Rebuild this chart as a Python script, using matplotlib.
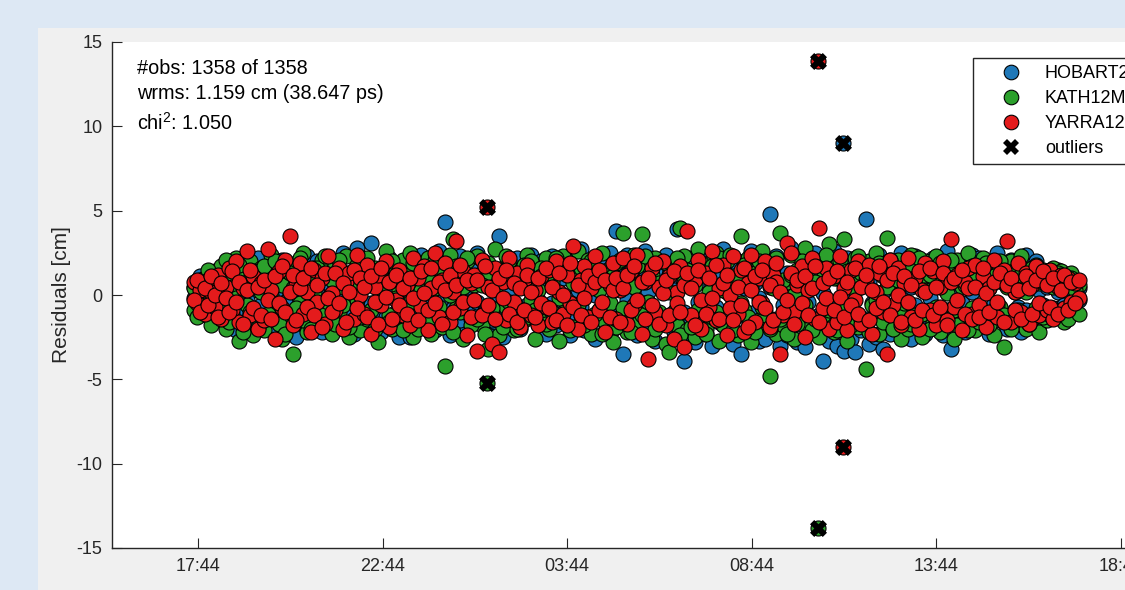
import numpy as np
import matplotlib.pyplot as plt
from matplotlib.lines import Line2D
from matplotlib.patches import Rectangle

plt.rcParams['font.family'] = ['Liberation Sans', 'DejaVu Sans']
plt.rcParams['mathtext.fontset'] = 'custom'
plt.rcParams['mathtext.rm'] = 'Liberation Sans'
plt.rcParams['mathtext.default'] = 'regular'
plt.rcParams['axes.unicode_minus'] = False

stations = ['HOBART26', 'KATH12M', 'YARRA12M']
colors = ['#1f78b8', '#2ca02c', '#e41b1c']

# scan epochs, minutes after 17:44
scan_min = [
    -6, -1, 4, 11, 16, 21, 28, 33, 38, 45, 50, 56, 62, 67, 73, 80, 85, 90, 97, 102,
    108, 114, 119, 125, 132, 137, 142, 149, 154, 160, 166, 171, 177, 184, 189, 194, 201, 206, 212, 218,
    223, 229, 236, 241, 246, 253, 258, 264, 270, 275, 281, 288, 293, 298, 305, 310, 316, 322, 327, 333,
    340, 345, 350, 357, 362, 368, 374, 379, 385, 392, 397, 402, 409, 414, 420, 426, 431, 437, 444, 449,
    454, 461, 466, 472, 478, 483, 489, 496, 501, 506, 513, 518, 524, 530, 535, 541, 548, 553, 558, 565,
    570, 576, 582, 587, 593, 600, 605, 610, 617, 622, 628, 634, 639, 645, 652, 657, 662, 669, 674, 680,
    686, 691, 697, 704, 709, 714, 721, 726, 732, 738, 743, 749, 756, 761, 766, 773, 778, 784, 790, 795,
    801, 808, 813, 818, 825, 830, 836, 842, 847, 853, 860, 865, 870, 877, 882, 888, 894, 899, 905, 912,
    917, 922, 929, 934, 940, 946, 951, 957, 964, 969, 974, 981, 986, 992, 998, 1003, 1009, 1016, 1021, 1026,
    1033, 1038, 1044, 1050, 1055, 1061, 1068, 1073, 1078, 1085, 1090, 1096, 1102, 1107, 1113, 1120, 1125, 1130, 1137, 1142,
    1148, 1154, 1159, 1165, 1172, 1177, 1182, 1189, 1194, 1200, 1206, 1211, 1217, 1224, 1229, 1234, 1241, 1246, 1252, 1258,
    1263, 1269, 1276, 1281, 1286, 1293, 1298, 1304, 1310, 1315, 1321, 1328, 1333, 1338, 1345, 1350, 1356, 1362, 1367, 1373,
    1380, 1385, 1390, 1397, 1402, 1408, 1414, 1419, 1425, 1432]

# residuals [cm], two baselines per station at each scan
res_hobart = [
    0.5, -0.8, 1.1, -0.3, 0.7, -1.2, 1.4, -0.9, 0.2, 1.8, -1.6, 0.9, -2.1, 1.5, -0.5, 1.9, -1.4, 0.3, 2.2, -1.9,
    1.2, -0.7, 1.7, -2.0, 0.6, 2.1, -1.5, 0.9, 1.3, -2.5, 0.4, -1.7, 2.3, -0.9, 1.0, 2.0, -2.2, 0.5, -1.3, 1.8,
    -2.0, 0.7, 2.5, -1.6, 1.1, -2.3, 2.8, -0.6, 1.5, -1.9, 3.1, -1.1, 0.8, -2.2, 1.7, 2.2, -1.5, 0.4, -2.5, 1.3,
    2.0, -2.5, 1.2, -1.0, 2.4, -1.8, 0.6, 1.6, -2.1, 2.6, -0.4, 4.3, -2.4, 1.1, -1.6, 2.3, 0.2, -2.0, 1.8, -1.2,
    2.5, -0.9, 1.9, -2.2, 1.0, -1.6, 3.5, -2.5, 0.8, 1.6, -1.3, 2.2, -2.0, 1.3, -0.6, 2.4, 1.1, -1.7, 2.0, -2.3,
    0.9, 2.3, -1.8, 1.6, -0.8, 2.1, -2.4, 1.2, -1.1, 2.7, -2.1, 0.5, 1.8, -2.6, 2.2, -1.4, 1.0, 2.5, -2.0, 3.8,
    1.5, -3.5, 2.4, -1.5, 1.9, -2.4, 0.7, 2.6, -1.9, 1.2, -2.7, 2.0, -1.3, 2.4, 0.9, -2.2, 3.9, 1.4, -3.9, -2.5,
    2.2, -2.8, 1.0, 2.5, -2.3, 0.5, -3.0, 2.1, -1.6, 2.7, -2.5, 1.4, -2.9, 2.0, -3.5, 1.6, -2.2, 2.6, -1.0, -2.7,
    1.9, -2.6, 4.8, -1.8, 2.3, -3.0, 1.1, -2.4, 2.8, -1.5, -2.8, 2.2, -3.1, 1.6, -2.0, 2.5, -1.2, -3.9, 2.1, -2.7,
    2.6, -3.0, 1.5, -3.3, 2.2, -2.6, -3.4, 1.9, -2.1, 4.5, -2.9, 1.7, -2.5, 2.4, -3.2, 1.2, -2.3, 2.0, -1.6, 2.5,
    -2.1, 1.5, -2.6, 2.3, -1.4, 2.0, -2.3, 0.9, 2.2, -1.8, 1.3, -2.4, 2.6, -3.2, 1.7, -1.0, 2.1, -2.2, 1.1, 2.4,
    -1.7, 2.2, -1.1, 1.8, -2.3, 0.8, 2.5, -1.5, 1.4, -2.0, 2.1, -0.9, 1.6, -2.2, 2.4, -1.3, 0.7, 2.0, -1.8, 1.2,
    1.3, -1.2, 0.9, 1.5, -0.7, 1.1, -1.3, 0.6, -0.9, 0.4]

res_hobart_b = [
    -0.2, 0.6, -0.9, 1.0, -0.5, 0.3, -1.1, 0.8, -0.4, 1.2, 0.1, -1.3, 0.7, -0.8, 1.1, -0.3, 0.5, -1.0, 1.3, -0.6,
    0.3, -1.2, 0.8, 0.0, -0.9, 1.4, -0.4, -1.1, 0.6, 1.0, -1.4, 0.2, -0.6, 1.2, -1.0, 0.4, 0.9, -1.3, 0.7, -0.3,
    1.0, -0.8, 0.3, 1.3, -1.2, 0.5, -0.2, 1.1, -1.5, 0.7, -0.5, 1.4, -0.9, 0.2, -1.3, 0.9, 0.1, -1.0, 1.5, -0.6,
    -0.7, 1.2, -1.3, 0.4, 0.9, -1.0, 1.5, -0.3, 0.6, -1.4, 1.0, -0.2, 1.3, -0.8, 0.2, -1.5, 1.1, 0.5, -0.9, 1.4,
    -0.4, 1.3, -0.9, 0.7, -1.5, 1.1, -0.1, 0.9, -1.2, 0.3, 1.5, -0.7, 1.0, -1.4, 0.4, -0.8, 1.2, -0.3, 0.8, -1.1,
    1.4, -0.5, 0.6, -1.3, 1.0, -0.2, 1.5, -1.1, 0.3, -0.7, 1.2, -1.5, 0.7, 0.0, -1.0, 1.3, -0.6, 0.9, -1.4, 0.5,
    -0.9, 1.1, -0.3, 1.6, -1.2, 0.4, -1.7, 1.0, 0.2, -0.8, 1.4, -1.1, 0.6, -1.6, 1.2, 0.3, -0.7, 1.5, -1.0, 0.8,
    -1.5, 1.2, -0.4, 0.9, 1.6, -1.3, 0.6, -0.7, 1.4, -1.8, 0.2, 1.1, -0.9, 1.7, -1.2, 0.4, 1.0, -1.6, 0.7, -0.2,
    1.2, -1.0, 0.5, 1.6, -1.4, 0.9, -0.6, 1.3, -1.7, 0.3, 1.0, -1.2, 0.6, -0.4, 1.5, -1.5, 0.8, 0.1, -1.1, 1.4,
    -0.6, 1.0, -1.6, 0.7, -0.3, 1.5, -1.1, 0.4, 1.2, -1.4, 0.8, -0.5, 1.6, -1.0, 0.2, -1.7, 1.1, -0.8, 1.4, 0.3,
    1.0, -1.3, 0.5, -0.6, 1.5, -1.1, 0.8, -0.2, 1.2, -1.6, 0.6, 1.3, -0.9, 0.3, -1.4, 1.1, -0.5, 0.9, -1.2, 0.2,
    1.1, -0.8, 1.4, -1.2, 0.4, -0.5, 1.3, -1.0, 0.7, 1.0, -1.3, 0.2, -0.7, 1.2, -0.9, 0.6, 1.3, -1.1, 0.3, -0.6,
    0.5, 0.9, -0.8, 0.2, 1.0, -0.6, 0.4, -1.0, 0.8, -0.3]

res_kath = [
    -0.9, 0.6, -1.2, 1.0, -0.4, 1.3, -1.5, 0.2, 1.7, -2.0, 0.8, -1.1, 2.2, -2.7, 1.4, -0.6, 2.0, -2.4, 0.9, 1.6,
    -2.1, 0.4, 2.4, -1.3, 1.1, -2.6, 0.7, -1.8, -3.5, 1.9, -0.5, 2.5, -2.2, 0.3, 1.6, -1.7, 2.1, -0.9, 1.2, -2.3,
    1.8, -1.0, 0.5, 2.3, -2.5, 1.2, -0.3, -2.1, 2.0, -1.4, 0.9, 1.6, -2.8, 0.1, 2.6, -1.2, -2.0, 1.4, 0.3, 2.1,
    -1.6, 2.5, -2.5, 0.7, 1.9, -1.1, 2.2, -2.3, 0.4, 1.5, -1.9, -4.2, 2.4, 3.3, -0.8, 1.0, -2.6, 2.0, -1.4, 0.6,
    2.3, -1.8, 1.2, -3.2, 0.5, 2.7, -2.4, 1.6, -0.7, 2.0, -2.1, 0.9, 1.4, -1.5, 2.4, -0.3, -2.6, 1.8, -1.0, 2.2,
    -2.0, 0.8, 1.5, -2.7, 2.3, -0.6, 1.1, -1.9, 2.6, -1.2, 0.4, 2.1, -2.3, 1.3, -0.9, 2.5, -1.6, 0.7, -2.8, 1.9,
    -1.3, 3.7, -2.2, 0.9, 2.4, -1.7, 3.6, -0.5, 1.8, -2.6, 2.2, -1.0, 0.6, -2.9, -3.4, 1.5, -1.8, 4.0, 2.3, -2.1,
    1.4, -2.5, 2.7, -0.8, -2.0, 1.9, -1.3, 2.5, -2.7, 0.3, 2.0, -1.6, 1.1, -2.4, 3.5, -0.9, 2.2, -2.8, 1.3, -1.5,
    2.6, -1.2, -4.8, 1.7, -2.3, 3.7, -1.8, 0.8, 2.4, -2.6, 1.5, -1.1, 2.8, -2.0, 0.5, 2.1, -2.5, 1.0, -1.4, 3.0,
    -2.2, 1.8, -1.5, 3.3, -2.7, 0.9, 2.2, -1.9, 1.3, -4.4, 2.0, -0.6, 2.5, -2.3, 1.1, 3.4, -1.7, 0.4, 2.1, -2.6,
    1.6, -2.0, 2.4, -1.2, 0.7, -2.5, 2.0, 1.2, -1.6, 2.3, -2.2, 0.9, 1.7, -1.4, -2.6, 2.1, 0.5, -1.9, 2.5, -0.8,
    -2.1, 1.4, 2.2, -1.3, 0.6, -2.4, 1.9, -0.7, -3.1, 1.2, 2.0, -1.8, 0.8, 2.3, -2.0, 1.0, -1.4, 1.8, -2.2, 1.5,
    -1.5, 0.9, 1.6, -1.1, 1.4, -1.6, 0.8, 1.3, -1.0, 0.6]

res_kath_b = [
    0.4, -1.3, 0.9, -0.6, 1.5, -1.8, 0.3, 1.1, -0.9, 2.1, -1.6, 0.5, -0.2, 1.8, -2.2, 0.8, -1.0, 1.4, -1.9, 0.2,
    1.7, -1.1, 0.0, 2.0, -1.7, 0.6, -2.3, 1.3, 0.4, -0.8, 2.2, -1.5, 1.0, -2.0, 0.2, 1.6, -1.2, 2.3, -0.4, 0.9,
    -1.7, 2.1, -0.6, 1.0, -1.9, 0.4, 1.8, -1.3, 0.7, 2.2, -0.9, -2.0, 1.5, -0.5, 0.9, -1.6, 2.0, -0.2, 1.3, -2.1,
    1.2, -0.4, 1.9, -2.0, 0.3, 1.6, -1.4, 0.8, 2.1, -0.7, 1.3, -1.6, 0.0, -2.2, 1.7, -1.0, 0.5, 2.2, -1.8, 1.0,
    -1.4, 0.6, -2.3, 1.9, -0.8, 0.4, 1.4, -1.9, 2.3, -0.4, 1.1, -2.0, 0.7, 1.8, -1.3, 2.0, -0.9, 0.3, 1.6, -1.7,
    1.3, -1.0, 2.2, -0.2, -1.6, 1.8, -2.1, 0.7, -0.6, 1.6, -1.8, 0.9, 2.0, -1.1, 0.3, -2.3, 1.4, -0.5, 1.1, -1.9,
    2.1, -0.8, 1.0, -2.2, 0.5, 1.7, -1.2, 2.3, -0.4, 1.2, -2.0, 0.7, -1.6, 1.9, 0.2, -1.0, 2.2, -2.4, 0.8, 1.5,
    -1.9, 0.6, -0.9, 1.9, -2.3, 0.2, 1.7, -1.0, 2.2, -1.8, 0.8, 2.4, -2.1, 1.0, -0.5, 1.8, -1.3, 0.5, -2.2, 2.0,
    -0.7, 1.6, -2.0, 0.4, 2.2, -1.4, 0.9, -2.3, 1.2, 0.0, -1.7, 2.0, -0.6, 1.5, -2.1, 0.8, 1.9, -1.2, 2.4, -0.9,
    1.0, -2.1, 2.0, -0.6, 1.4, -1.8, 0.3, 2.3, -1.4, 0.7, -2.2, 1.6, -0.3, 1.9, -1.6, 0.5, 2.1, -2.0, 0.9, -1.1,
    -0.5, 1.8, -1.7, 0.6, 2.2, -1.1, 0.3, -2.0, 1.5, -0.7, 1.9, -1.5, 0.1, 2.1, -0.9, -1.8, 1.3, 0.6, -2.1, 1.7,
    0.9, -1.6, 0.4, 1.9, -1.8, 1.1, -0.6, 2.0, -1.2, 0.5, -2.0, 1.5, -0.9, 1.2, 0.2, -1.7, 1.6, -0.8, 0.7, -1.3,
    1.1, -1.2, 0.5, 1.3, -0.9, 0.7, -1.4, 1.0, 0.3, -1.1]

res_yarra = [
    0.8, -0.5, 0.3, -1.1, 0.9, 0.2, -0.7, 1.2, -1.4, 0.5, 1.6, -0.9, 2.0, -1.6, 0.4, 2.6, -1.2, 1.1, -2.0, 0.7,
    -1.5, 2.7, 0.3, -2.6, 1.4, -0.8, 2.1, 3.5, -1.8, 0.6, 1.9, -1.1, 0.2, -2.2, 1.5, -0.4, 1.0, -1.7, 2.3, 0.1,
    -0.9, 1.6, -2.0, 0.8, 1.3, -1.4, 2.4, 0.0, -1.1, 1.8, -2.3, 0.5, 1.2, -0.6, 2.0, -1.9, 0.9, -0.3, 1.5, -1.2,
    0.6, -1.8, 2.2, 1.0, -0.7, 1.7, -2.1, 0.4, 2.5, -1.3, 0.9, 1.9, -1.6, 0.2, 3.2, -0.8, 1.4, -2.4, 0.7, 1.2,
    -3.3, 2.1, -1.0, 0.5, -2.9, 1.6, -3.4, 0.8, -1.5, 2.2, -0.4, 1.3, -1.9, 0.6, 1.8, -1.2, 0.3, -1.8, 1.1, -0.7,
    1.5, -1.6, 2.0, 0.2, -1.1, 1.2, -0.5, 2.9, -2.0, 0.9, 1.7, -1.3, 0.4, 2.3, -0.9, 1.0, -2.2, 0.6, 1.9, -1.4,
    0.3, 2.2, -1.7, 1.4, -0.6, 2.4, -2.3, 0.8, -3.8, 1.6, -1.0, 0.5, 2.0, -1.8, 1.1, -2.6, 0.2, 1.7, -3.1, 3.8,
    -1.2, 0.9, 2.1, -2.0, 1.3, -0.7, 2.6, -1.5, 0.4, 1.8, -2.4, 0.0, 2.3, -1.1, 1.5, -2.2, 0.7, 2.4, -1.6, 1.0,
    -0.5, 2.0, -1.9, 1.2, 0.8, -3.5, -1.2, 3.1, 2.5, -1.0, 0.6, 1.7, -2.5, 0.3, 2.2, -1.4, 4.0, -0.8, 1.6, -2.0,
    1.1, -1.6, 2.3, 0.4, -2.1, 1.5, -0.3, 2.0, -1.7, 0.9, 1.8, -2.3, 0.2, 1.3, -1.0, -3.5, 2.1, -0.6, 1.6, -1.8,
    0.7, 2.2, -1.3, 1.0, -2.0, 0.3, 1.9, -0.9, 1.4, -1.8, 0.5, 2.0, -1.5, 3.3, -0.7, 1.2, -2.1, 0.8, 1.6, -1.1,
    1.8, -0.6, 1.1, -1.9, 0.4, 2.1, -1.3, 0.9, 1.5, 3.2, -1.6, 0.2, 1.9, -1.0, 1.3, -1.7, 0.6, 1.7, -1.2, 0.8,
    -0.9, 1.5, -1.4, 0.5, 1.2, -0.8, 1.0, -0.4, 0.7, -0.2]

res_yarra_b = [
    -0.3, 0.9, -1.0, 0.4, -0.6, 1.1, 0.0, -1.3, 0.7, -0.2, -1.0, 1.4, -0.4, 0.8, -1.7, 0.3, 1.5, -0.8, 0.5, -1.2,
    0.9, -0.3, -1.4, 1.1, -0.5, 1.7, -1.0, 0.2, 1.2, -1.5, 0.4, 1.0, -0.7, 1.6, -1.2, 0.6, -1.9, 1.3, -0.2, -1.0,
    1.3, -0.5, 0.7, -1.6, 0.2, 1.5, -0.8, 1.0, 0.5, -1.3, 1.1, -0.4, -1.7, 1.6, -0.1, 0.8, -1.4, 1.2, -0.6, 0.4,
    -1.1, 1.0, -0.2, -1.5, 1.4, 0.1, -0.9, 1.6, -0.5, 0.8, -1.7, 0.3, 1.2, -1.0, 0.6, 1.8, -0.4, 0.9, -1.3, -0.3,
    0.9, -1.2, 1.7, -0.6, 0.3, -1.4, 1.0, -0.2, 1.5, -1.1, 0.7, -1.6, 0.4, -0.9, 1.2, 0.2, -1.3, 1.0, -0.5, 1.6,
    -0.8, 0.5, -1.5, 1.3, 0.0, -1.8, 1.9, -0.7, 0.6, -1.2, -0.2, 1.1, -1.6, 0.8, 1.5, -0.4, 0.9, -1.3, 0.3, 1.0,
    -1.6, 0.4, 1.2, -0.9, 1.7, -0.3, 0.8, -1.4, 1.0, -0.6, 1.9, -1.7, 0.1, 0.9, -1.2, 1.4, -0.5, -1.0, 0.6, 1.3,
    0.4, -1.8, 1.5, -0.3, -1.1, 1.0, -0.2, 1.8, -1.4, 0.7, 1.2, -0.8, -1.5, 0.5, -0.6, 1.6, -1.9, 0.3, 1.1, -0.4,
    1.5, -0.8, 0.6, -1.5, 1.9, 0.2, -1.0, -0.3, 1.3, -1.7, 0.9, -0.5, 1.1, -1.2, 0.4, 1.7, -1.6, 0.7, -0.2, 1.0,
    -0.9, 1.4, -0.1, -1.3, 0.8, -0.6, 1.6, -1.1, 0.5, 1.2, -1.5, 0.3, -0.8, 1.7, -0.4, 0.9, -1.2, 1.3, 0.0, -1.6,
    1.1, -0.4, 0.6, -1.5, 1.4, -0.9, 0.2, 1.6, -1.2, 0.5, -0.7, 1.3, -1.8, 0.8, 1.0, -0.3, 1.5, -1.1, 0.4, -1.4,
    0.5, -1.3, 1.6, 0.1, -1.0, 0.8, -0.4, 1.3, -1.6, 0.6, 1.0, -0.9, 0.3, -1.4, 1.1, 0.4, -1.1, 0.9, -0.5, 1.4,
    0.6, -0.7, 1.0, -1.1, 0.3, 1.2, -0.9, 0.8, -0.5, 0.9]

# flagged outliers: time, residual, station index
out_min = [470, 470, 1008, 1008, 1048, 1048]
out_res = [5.2, -5.2, 13.9, -13.8, 9.0, -9.0]
out_sta = [2, 1, 2, 1, 0, 2]

tick_min = [0, 300, 600, 900, 1200, 1500]
tick_labels = ['17:44', '22:44', '03:44', '08:44', '13:44', '18:44']
y_ticks = [-15, -10, -5, 0, 5, 10, 15]

W, H = 1125, 590
fig = plt.figure(figsize=(W / 100, H / 100), dpi=100, facecolor='#dde8f4')
panel = Rectangle((38 / W, 0), 1, 1 - 28 / H, transform=fig.transFigure,
                  facecolor='#f0f0f0', edgecolor='none', zorder=-10)
fig.patches.append(panel)

ax = fig.add_axes([112 / W, 42 / H, (1160 - 112) / W, 506 / H])
ax.set_facecolor('white')

series = [[res_hobart, res_hobart_b], [res_kath, res_kath_b], [res_yarra, res_yarra_b]]
for pair, col in zip(series, colors):
    for res in pair:
        ax.scatter(scan_min, res, s=117, c=col, edgecolors='black', linewidths=0.8, zorder=2)

for t, r, k in zip(out_min, out_res, out_sta):
    ax.scatter([t], [r], s=117, c=colors[k], edgecolors='black', linewidths=0.8, zorder=3)
ax.scatter(out_min, out_res, s=150, marker='X', c='black', linewidths=0, zorder=4)

ax.set_xlim(-139.8, 1563.4)
ax.set_ylim(-15, 15)
ax.set_xticks(tick_min)
ax.set_xticklabels(tick_labels)
ax.set_yticks(y_ticks)
for s in ['top', 'right']:
    ax.spines[s].set_visible(False)
for s in ['left', 'bottom']:
    ax.spines[s].set_color('#262626')
    ax.spines[s].set_linewidth(1.0)
ax.tick_params(direction='in', length=7, width=0.8, colors='#262626', labelsize=13, pad=7)
ax.set_ylabel('Residuals [cm]', fontsize=15, color='#262626', labelpad=4)

fig.text(137 / W, 1 - 68 / H, '#obs: 1358 of 1358', fontsize=14.3, va='center')
fig.text(137 / W, 1 - 93 / H, 'wrms: 1.159 cm (38.647 ps)', fontsize=14.3, va='center')
fig.text(137 / W, 1 - 123 / H, 'chi$^{2}$: 1.050', fontsize=14.3, va='center')

handles = [Line2D([], [], ls='none', marker='o', ms=10.5, mfc=c, mec='black', mew=0.8) for c in colors]
handles.append(Line2D([], [], ls='none', marker='X', ms=11, mfc='black', mec='black', mew=0))
leg = ax.legend(handles, stations + ['outliers'], loc='upper left',
                bbox_to_anchor=(973 / W, 1 - 58 / H), bbox_transform=fig.transFigure,
                fontsize=13, frameon=True, fancybox=False, framealpha=1, edgecolor='#262626',
                borderpad=0.38, handlelength=3.4, handletextpad=0.2, labelspacing=0.45,
                borderaxespad=0)
leg.get_frame().set_linewidth(1.0)

fig.savefig('out.png', dpi=100, facecolor=fig.get_facecolor())
